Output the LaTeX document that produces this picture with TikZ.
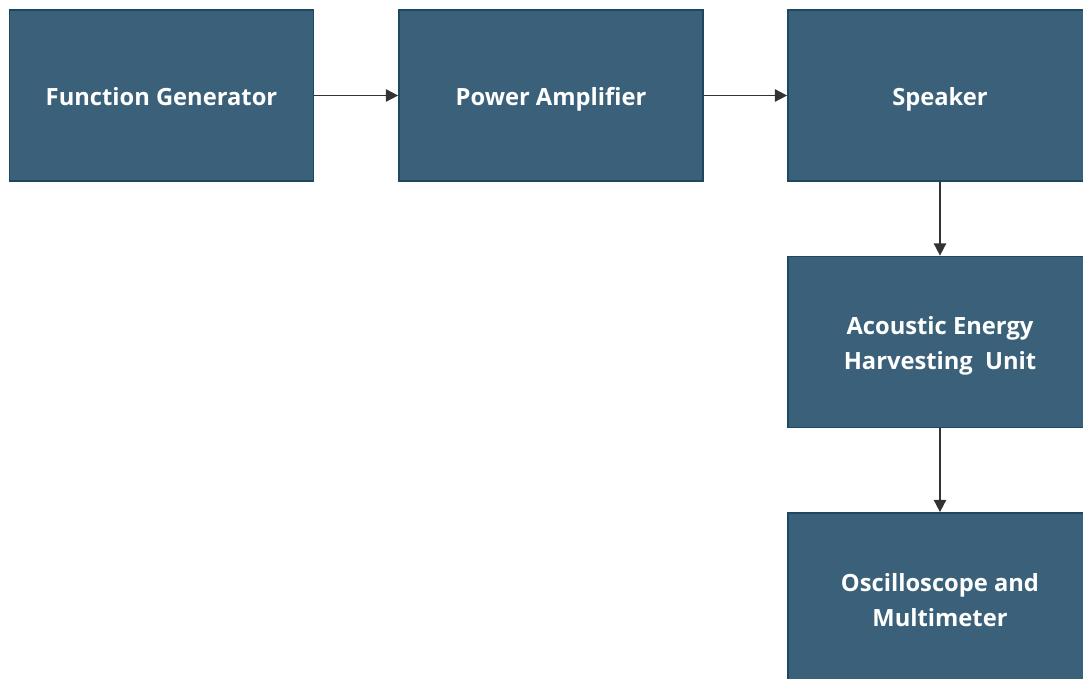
\documentclass[tikz,border=0pt]{standalone}
\usepackage{fontspec}
\setmainfont{Open Sans}
\usetikzlibrary{arrows.meta}
\definecolor{boxfill}{HTML}{3A6179}
\definecolor{boxline}{HTML}{1D4862}
\definecolor{wire}{HTML}{333333}
\newcommand{\topstrut}[1]{\rule{0pt}{#1}}
\begin{document}
\begin{tikzpicture}[x=0.02cm,y=-0.02cm,
	block/.style={rectangle, draw=boxline, fill=boxfill, line width=1pt, text=white,
		minimum width=6.08cm, minimum height=3.42cm, align=center,
		font=\fontsize{13.5}{20}\selectfont\bfseries},
	oneline/.style={text height=1.14em, text depth=0em},
	wire/.style={draw=wire, line width=1pt, -{Triangle[length=7pt,width=7pt]}}]
	\useasboundingbox (0,0) rectangle (1083,679);
	\clip (0,0) rectangle (1083,679);
	\node (FG)  at (161.5, 95.5)	[block, oneline]	{Function Generator};
	\node (PA)  at (551, 95.5)	[block, oneline]	{Power Amplifier};
	\node (SPK) at (940, 95.5)	[block, oneline]	{Speaker};
	\node (AEH) at (940, 342)	[block]	{\topstrut{1.09em}Acoustic Energy\\Harvesting\ \ Unit};
	\node (OSC) at (940, 598.5)	[block]	{\topstrut{0.89em}Oscilloscope and\\Multimeter};
	\draw[wire] (FG) -- (PA);
	\draw[wire] (PA) -- (SPK);
	\draw[wire] (SPK) -- (AEH);
	\draw[wire] (AEH) -- (OSC);
\end{tikzpicture}
\end{document}
